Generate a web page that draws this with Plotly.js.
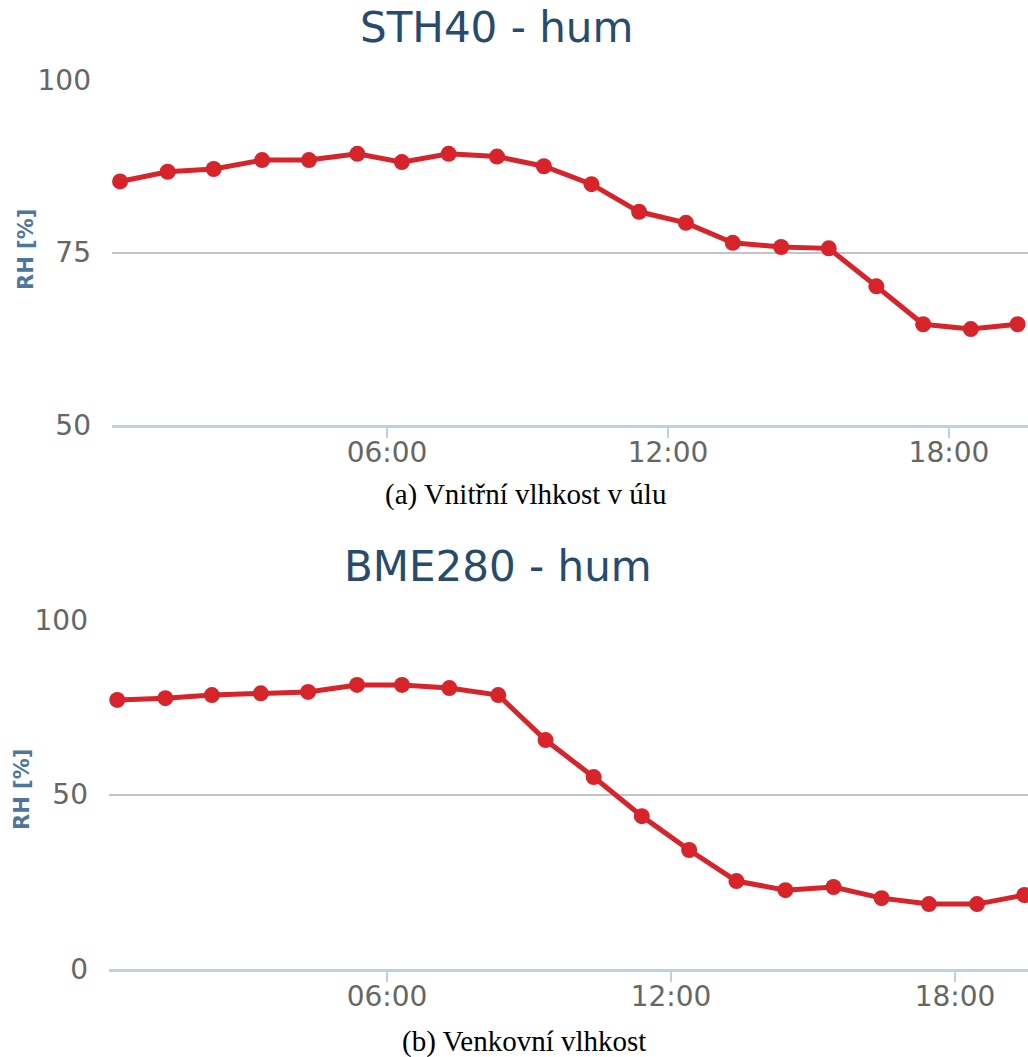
<!DOCTYPE html>
<html>
<head>
<meta charset="utf-8">
<script src="https://cdn.plot.ly/plotly-3.0.1.min.js"></script>
<style>html,body{margin:0;padding:0;background:#fff;}#chart{width:1028px;height:1057px;}</style>
</head>
<body>
<div id="chart"></div>
<script>
// Measurement times (same for both sensors)
const times = ["00:18","01:19","02:18","03:20","04:20","05:22","06:19","07:19","08:21","09:21",
               "10:22","11:23","12:23","13:23","14:25","15:26","16:27","17:27","18:28","19:28"];
// STH40 - inner hive humidity [%]
const sth40Hum = [85.3,86.7,87.1,88.4,88.4,89.3,88.1,89.3,88.9,87.5,
                  84.9,80.9,79.3,76.4,75.8,75.6,70.1,64.6,63.9,64.6];
// BME280 - outdoor humidity [%]
const bme280Hum = [77.1,77.6,78.5,79.0,79.4,81.4,81.4,80.5,78.5,65.6,
                   55.0,43.8,34.1,25.2,22.6,23.5,20.3,18.6,18.6,21.2];
const titles = ["STH40 - hum", "BME280 - hum"];
const captions = ["(a) Vnitřní vlhkost v úlu", "(b) Venkovní vlhkost"];
const yTitle = "RH [%]";

const day = "2000-01-01 ";
const xs = times.map(t => day + t + ":00");

const lineColor = "#d7232a";
const sansFont = "DejaVu Sans";

const traceStyle = {
  mode: "lines+markers",
  line: {color: lineColor, width: 5},
  marker: {color: lineColor, size: 16},
  hoverinfo: "x+y",
  showlegend: false
};

const data = [
  Object.assign({x: xs, y: sth40Hum, xaxis: "x", yaxis: "y"}, traceStyle),
  Object.assign({x: xs, y: bme280Hum, xaxis: "x2", yaxis: "y2"}, traceStyle)
];

function xAxis(domain, range, anchor) {
  return {
    domain: domain, range: range, anchor: anchor, type: "date",
    tickformat: "%H:%M", tick0: day + "00:00:00", dtick: 6 * 3600 * 1000,
    showgrid: false, zeroline: false,
    showline: true, linecolor: "#c0d0e0", linewidth: 2.5,
    ticks: "outside", ticklen: 10, tickwidth: 2, tickcolor: "#c0d0e0",
    ticklabelstandoff: -9,
    tickfont: {family: sansFont, size: 28, color: "#666666"},
    fixedrange: true
  };
}
function yAxis(domain, range, dtick, anchor) {
  return {
    domain: domain, range: range, anchor: anchor, dtick: dtick, tick0: 0,
    showgrid: true, gridcolor: "#c4c4c4", gridwidth: 2,
    zeroline: false, showline: false, ticks: "",
    ticklabelstandoff: 20,
    tickfont: {family: sansFont, size: 28, color: "#666666"},
    fixedrange: true
  };
}

const W = 1028, H = 1057;
const layout = {
  width: W, height: H,
  margin: {l: 0, r: 0, t: 0, b: 0},
  paper_bgcolor: "#ffffff", plot_bgcolor: "#ffffff",
  xaxis: xAxis([112 / W, 1], [day + "00:07:40", day + "19:41:17"], "y"),
  yaxis: yAxis([1 - 425 / H, 1 - 80 / H], [50, 100], 25, "x"),
  xaxis2: xAxis([109 / W, 1], [day + "00:07:34", day + "19:32:35"], "y2"),
  yaxis2: yAxis([1 - 969 / H, 1 - 620 / H], [0, 100], 50, "x2"),
  annotations: [
    {text: titles[0], x: 496 / W, y: 1 - 27 / H, xref: "paper", yref: "paper", showarrow: false,
     xanchor: "center", yanchor: "middle", font: {family: sansFont, size: 42, color: "#274b6d"}},
    {text: titles[1], x: 498 / W, y: 1 - 566 / H, xref: "paper", yref: "paper", showarrow: false,
     xanchor: "center", yanchor: "middle", font: {family: sansFont, size: 42, color: "#274b6d"}},
    {text: "<b>" + yTitle + "</b>", x: 26 / W, y: 1 - 250 / H, xref: "paper", yref: "paper", showarrow: false,
     textangle: -90, xanchor: "center", yanchor: "middle", font: {family: sansFont, size: 21, color: "#4d759e"}},
    {text: "<b>" + yTitle + "</b>", x: 22 / W, y: 1 - 790 / H, xref: "paper", yref: "paper", showarrow: false,
     textangle: -90, xanchor: "center", yanchor: "middle", font: {family: sansFont, size: 21, color: "#4d759e"}},
    {text: captions[0], x: 525 / W, y: 1 - 494 / H, xref: "paper", yref: "paper", showarrow: false,
     xanchor: "center", yanchor: "middle", font: {family: "Liberation Serif", size: 29, color: "#000000"}},
    {text: captions[1], x: 524 / W, y: 1 - 1041 / H, xref: "paper", yref: "paper", showarrow: false,
     xanchor: "center", yanchor: "middle", font: {family: "Liberation Serif", size: 29, color: "#000000"}}
  ]
};

Plotly.newPlot("chart", data, layout, {displayModeBar: false, staticPlot: true});
</script>
</body>
</html>
